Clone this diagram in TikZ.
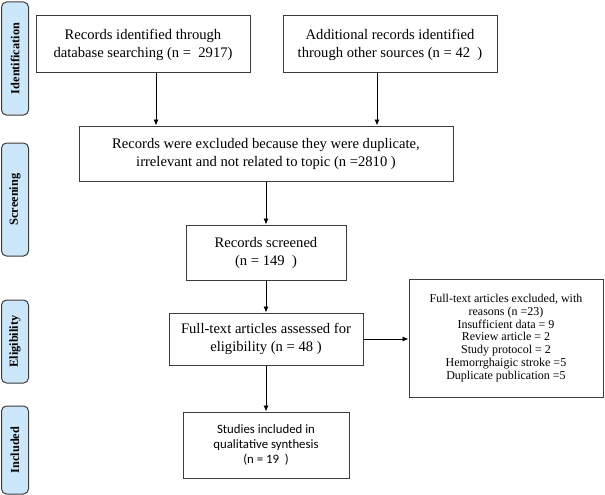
\documentclass[tikz,border=0pt]{standalone}
\usepackage{fontspec}
\setmainfont{Liberation Serif}
\newfontfamily\calibri{Carlito}
\usepackage{tikz}
\usetikzlibrary{arrows.meta}
\definecolor{phase}{RGB}{205,231,250}
\definecolor{edge}{RGB}{60,60,60}

\begin{document}
\begin{tikzpicture}[x=1pt,y=-1pt,
    box/.style={draw=edge,line width=1pt,align=center,inner sep=2pt,font=\fontsize{14.6}{18}\selectfont},
    phaselbl/.style={draw=edge,line width=1pt,fill=phase,rounded corners=5pt,rotate=90,
        minimum height=27pt,inner sep=0pt,font=\bfseries\fontsize{12.3}{14}\selectfont},
    arr/.style={-{Latex[length=6pt,width=5pt]},line width=0.9pt}]
    \useasboundingbox (0,0) rectangle (605,495);
    % phases
    \node[phaselbl,minimum width=113pt] (ident) at (15,58.5) {Identification};
    \node[phaselbl,minimum width=113pt] (screen) at (15,199.5) {Screening};
    \node[phaselbl,minimum width=83pt] (elig) at (15,341.5) {Eligibility};
    \node[phaselbl,minimum width=88pt] (incl) at (15,450) {Included};
    % boxes
    \node[box,minimum width=214pt,minimum height=57pt] (dbrec) at (143,44.5) {Records identified through\\database searching (n =\ \ 2917)};
    \node[box,minimum width=214pt,minimum height=57pt] (othrec) at (390,44.5) {Additional records identified\\through other sources (n = 42\ \ )};
    \node[box,minimum width=374pt,minimum height=55pt] (dupl) at (266,153.5) {Records were excluded because they were duplicate,\\irrelevant and not related to topic (n =2810 )};
    \node[box,minimum width=160pt,minimum height=55pt] (screened) at (266,252.5) {Records screened\\(n = 149\ \ )};
    \node[box,minimum width=194pt,minimum height=52pt] (fulltext) at (266,339) {Full-text articles assessed for\\eligibility (n = 48 )};
    \node[box,minimum width=194pt,minimum height=118pt,font=\fontsize{12}{12.8}\selectfont] (excl) at (506,338) {Full-text articles excluded, with\\reasons (n =23)\\Insufficient data = 9\\Review article = 2\\Study protocol = 2\\Hemorrghaigic stroke =5\\Duplicate publication =5};
    \node[box,minimum width=166pt,minimum height=66pt,font=\calibri\fontsize{12.8}{15}\selectfont] (incstud) at (266,445) {Studies included in\\qualitative synthesis\\(n = 19\ \ )};
    % arrows
    \coordinate (c1) at (156,0);
    \coordinate (c2) at (377,0);
    \draw[arr] (dbrec.south -| c1) -- (dupl.north -| c1);
    \draw[arr] (othrec.south -| c2) -- (dupl.north -| c2);
    \draw[arr] (dupl) -- (screened);
    \draw[arr] (screened) -- (fulltext);
    \draw[arr] (fulltext) -- (incstud);
    \draw[arr] (fulltext.east) -- (excl.west |- fulltext.east);
\end{tikzpicture}
\end{document}
